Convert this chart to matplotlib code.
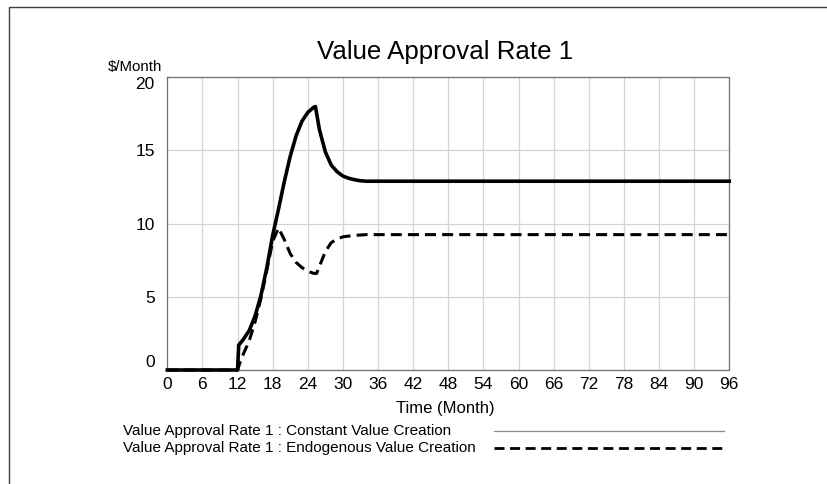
import matplotlib
matplotlib.use("Agg")
import matplotlib.pyplot as plt
from matplotlib.lines import Line2D

plt.rcParams['font.family'] = ['Liberation Sans', 'DejaVu Sans']

title = "Value Approval Rate 1"
y_unit = "$/Month"
x_label = "Time (Month)"
series_names = ["Value Approval Rate 1 : Constant Value Creation",
                "Value Approval Rate 1 : Endogenous Value Creation"]

x_ticks = list(range(0, 97, 6))
y_ticks = [0, 5, 10, 15, 20]

const_t = [0, 12, 12.2, 13, 14, 15, 16, 17, 18, 19, 20, 21, 22, 23, 24, 25, 25.3,
           26, 27, 28, 29, 30, 31, 32, 33, 34, 36, 96]
const_v = [0, 0, 1.7, 2.1, 2.7, 3.7, 5.1, 7.0, 9.2, 11.0, 12.9, 14.6, 16.0, 17.0,
           17.6, 17.95, 18.0, 16.4, 14.9, 14.0, 13.55, 13.25, 13.1, 13.0, 12.93,
           12.9, 12.9, 12.9]

endo_t = [0, 12, 12.5, 13, 14, 15, 16, 17, 18, 19, 20, 21, 22, 23, 24, 25, 25.5,
          26, 27, 28, 29, 30, 31, 32, 34, 36, 96]
endo_v = [0, 0, 0.6, 1.1, 2.0, 3.3, 4.9, 6.8, 8.8, 9.7, 8.9, 7.95, 7.35, 7.0, 6.75,
          6.6, 6.6, 7.1, 8.1, 8.7, 8.95, 9.1, 9.15, 9.2, 9.25, 9.25, 9.25]

W, H = 828, 484
fig = plt.figure(figsize=(W / 100, H / 100), dpi=100)
ax = fig.add_axes([167.3 / W, 1 - 370 / H, (729.3 - 167.3) / W, (370 - 77.3) / H])

ax.plot(const_t, const_v, color='black', lw=2.6, solid_joinstyle='round',
        clip_on=False, zorder=3)
ax.plot(endo_t, endo_v, color='black', lw=2.2, dashes=(3.6, 2.0),
        clip_on=False, zorder=4)

ax.set_xlim(0, 96)
ax.set_ylim(0, 20)
ax.set_xticks(x_ticks)
ax.set_yticks(y_ticks)
ax.grid(True, color='#d4d4d4', lw=0.9)
ax.set_axisbelow(True)
for s in ax.spines.values():
    s.set_color('#707070')
    s.set_linewidth(0.9)
ax.tick_params(length=0, labelsize=12.5, colors='black')
ax.tick_params(axis='x', pad=5)
ax.tick_params(axis='y', pad=9)
ylabels = ax.get_yticklabels()
ylabels[0].set_va('bottom')
ylabels[-1].set_va('top')

fig.text(445 / W, 1 - 52 / H, title, ha='center', va='center', fontsize=18.6)
fig.text(108 / W, 1 - 66.5 / H, y_unit, ha='left', va='center', fontsize=10.8)
fig.text(445 / W, 1 - 408 / H, x_label, ha='center', va='center', fontsize=12)

fig.text(123 / W, 1 - 431 / H, series_names[0], ha='left', va='center', fontsize=11)
fig.text(123 / W, 1 - 448 / H, series_names[1], ha='left', va='center', fontsize=11)
fig.add_artist(Line2D([494 / W, 724 / W], [1 - 430.5 / H, 1 - 430.5 / H],
                      color='#8c8c8c', lw=0.9))
fig.add_artist(Line2D([494 / W, 724 / W], [1 - 448.3 / H, 1 - 448.3 / H],
                      color='black', lw=2.0, dashes=(3.6, 2.0)))

# outer frame (left and top)
fig.add_artist(Line2D([9.3 / W, 9.3 / W, 1], [0, 1 - 7 / H, 1 - 7 / H],
                      color='#404040', lw=1.0))

fig.savefig('out.png', dpi=100)
